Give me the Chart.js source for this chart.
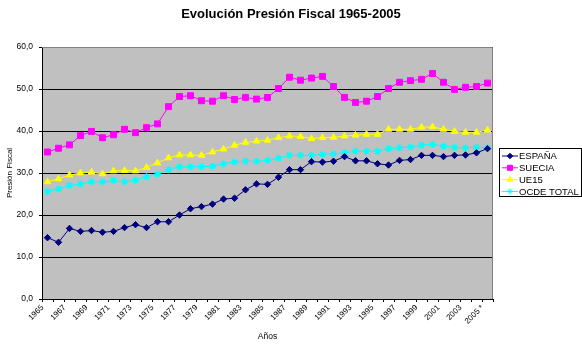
<!DOCTYPE html>
<html>
<head>
<meta charset="utf-8">
<script src="https://cdn.jsdelivr.net/npm/chart.js@4/dist/chart.umd.min.js"></script>
<style>
  body { margin: 0; background: #fff; }
  #wrap { width: 582px; height: 352px; }
</style>
</head>
<body>
<div id="wrap"><canvas id="chart"></canvas></div>
<script>
const years = ['1965','1966','1967','1968','1969','1970','1971','1972','1973','1974',
               '1975','1976','1977','1978','1979','1980','1981','1982','1983','1984',
               '1985','1986','1987','1988','1989','1990','1991','1992','1993','1994',
               '1995','1996','1997','1998','1999','2000','2001','2002','2003','2004','2005 *'];

const espana = [14.6,13.5,16.8,16.1,16.3,15.9,16.1,17.0,17.7,17.0,
                18.4,18.4,20.0,21.5,22.0,22.6,23.8,24.0,26.0,27.4,
                27.3,29.0,30.8,30.8,32.7,32.6,32.8,33.9,32.9,32.9,
                32.2,31.9,33.0,33.2,34.2,34.2,33.9,34.2,34.3,34.8,35.8];
const suecia = [35.0,35.9,36.7,38.9,39.9,38.4,39.1,40.4,39.6,40.8,
                41.7,45.8,48.2,48.4,47.2,47.1,48.4,47.5,48.0,47.6,
                48.0,50.1,52.8,52.1,52.6,53.0,50.6,48.0,46.8,47.1,
                48.2,50.1,51.6,52.0,52.3,53.7,51.6,49.9,50.4,50.6,51.4];
const ue15 = [27.9,28.6,29.5,30.0,30.2,29.8,30.5,30.6,30.5,31.3,
              32.4,33.6,34.3,34.3,34.2,35.0,35.7,36.6,37.3,37.6,
              37.8,38.4,38.8,38.7,38.2,38.4,38.5,38.8,39.0,39.2,
              39.2,40.4,40.4,40.4,40.9,41.0,40.4,39.9,39.7,39.7,40.2];
const ocde = [25.6,26.2,27.0,27.4,27.9,27.9,28.2,27.9,28.3,29.1,
              29.7,30.8,31.5,31.5,31.5,31.6,32.2,32.6,32.8,32.8,
              33.0,33.5,34.2,34.2,34.2,34.4,34.6,34.8,35.2,35.2,
              35.2,35.8,36.0,36.2,36.6,36.8,36.4,36.1,36.0,36.1,36.0];

const FONT = "'Liberation Sans', Arial, sans-serif";
const TITLE = 'Evolución Presión Fiscal 1965-2005';

const series = [
  { label: 'ESPAÑA', data: espana, color: '#000080', style: 'rectRot', radius: 3.2 },
  { label: 'SUECIA', data: suecia, color: '#FF00FF', style: 'rect', radius: 4.2 },
  { label: 'UE15', data: ue15, color: '#FFFF00', style: 'triangle', radius: 3.8 },
  { label: 'OCDE TOTAL', data: ocde, color: '#00FFFF', style: 'star', radius: 3.5 }
];

// gray plot area + frame
const plotBg = {
  id: 'plotBg',
  beforeDraw(chart) {
    const { ctx, chartArea: a } = chart;
    ctx.save();
    ctx.fillStyle = '#C0C0C0';
    ctx.fillRect(a.left, a.top, a.right - a.left, a.bottom - a.top);
    ctx.restore();
  },
  afterDatasetsDraw(chart) {
    const { ctx, chartArea: a } = chart;
    ctx.save();
    ctx.strokeStyle = '#808080';
    ctx.lineWidth = 1;
    ctx.beginPath();
    ctx.moveTo(a.left, a.top + 0.5);
    ctx.lineTo(a.right - 0.5, a.top + 0.5);
    ctx.lineTo(a.right - 0.5, a.bottom);
    ctx.stroke();
    ctx.restore();
  }
};

// chart title centred on the whole picture (like Excel)
const pageTitle = {
  id: 'pageTitle',
  afterDraw(chart) {
    const ctx = chart.ctx;
    ctx.save();
    ctx.font = 'bold 13px ' + FONT;
    ctx.fillStyle = '#000';
    ctx.textAlign = 'center';
    ctx.textBaseline = 'middle';
    ctx.fillText(TITLE, chart.width / 2, 14);
    ctx.restore();
  }
};

// Excel-like legend box with line + marker
const boxLegend = {
  id: 'boxLegend',
  afterDraw(chart) {
    const ctx = chart.ctx;
    const x0 = 499.5, y0 = 148.5, w = 82, h = 48;
    ctx.save();
    ctx.fillStyle = '#fff';
    ctx.fillRect(x0, y0, w, h);
    ctx.strokeStyle = '#000';
    ctx.lineWidth = 1;
    ctx.strokeRect(x0, y0, w, h);
    ctx.font = '9.5px ' + FONT;
    ctx.textBaseline = 'middle';
    series.forEach((s, i) => {
      const y = 156 + i * 11.8;
      ctx.strokeStyle = s.color;
      ctx.fillStyle = s.color;
      ctx.lineWidth = 1;
      ctx.beginPath();
      ctx.moveTo(502, y);
      ctx.lineTo(518, y);
      ctx.stroke();
      Chart.helpers.drawPoint(ctx, { pointStyle: s.style, radius: s.radius * 0.85, borderWidth: s.style === 'star' ? 1.5 : 1, rotation: 0 }, 510, y);
      ctx.fillStyle = '#000';
      ctx.fillText(s.label, 519, y + 0.5);
    });
    ctx.restore();
  }
};

new Chart(document.getElementById('chart'), {
  type: 'line',
  data: {
    labels: years,
    datasets: series.map(s => ({
      label: s.label,
      data: s.data,
      borderColor: s.color,
      backgroundColor: s.color,
      borderWidth: 1,
      pointStyle: s.style,
      pointRadius: s.radius,
      pointBorderWidth: s.style === 'star' ? 1.5 : 1,
      pointBorderColor: s.color,
      pointBackgroundColor: s.color,
      tension: 0
    }))
  },
  plugins: [plotBg, pageTitle, boxLegend],
  options: {
    responsive: true,
    maintainAspectRatio: false,
    animation: false,
    layout: { padding: { left: 0, right: 89, top: 47, bottom: 0 } },
    plugins: {
      legend: { display: false },
      tooltip: { enabled: false },
      title: { display: false }
    },
    scales: {
      x: {
        offset: true,
        afterFit(scale) { scale.height = 53; },
        grid: { offset: true, drawOnChartArea: false, drawTicks: true, tickLength: 3, color: '#000' },
        border: { color: '#000' },
        ticks: {
          autoSkip: false,
          maxRotation: 45,
          minRotation: 45,
          labelOffset: -5,
          padding: 1,
          color: '#000',
          font: { family: FONT, size: 8 },
          callback: (v, i) => (i % 2 === 0 ? years[i] : '')
        },
        title: {
          display: true,
          text: 'Años',
          color: '#000',
          font: { family: FONT, size: 8.5 },
          padding: { top: 0, bottom: 10 }
        }
      },
      y: {
        min: 0,
        max: 60,
        afterFit(scale) { scale.width = 42; },
        grid: { color: '#000', lineWidth: 1, drawTicks: true, tickLength: 3 },
        border: { color: '#000' },
        ticks: {
          stepSize: 10,
          padding: 6,
          color: '#000',
          font: { family: FONT, size: 8.5 },
          callback: v => v.toFixed(1).replace('.', ',')
        },
        title: {
          display: true,
          text: 'Presión Fiscal',
          color: '#000',
          font: { family: FONT, size: 8 },
          padding: { top: 5, bottom: 0 }
        }
      }
    }
  }
});
</script>
</body>
</html>
